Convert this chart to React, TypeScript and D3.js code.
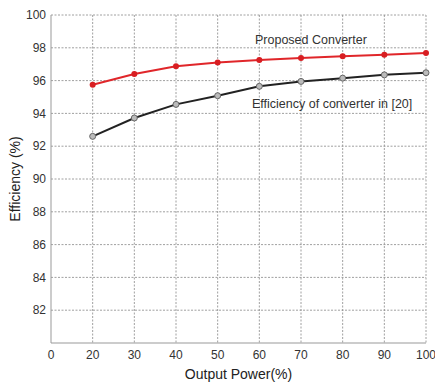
import React from 'react';
import * as d3 from 'd3';

const xTicks = ['0', '20', '30', '40', '50', '60', '70', '80', '90', '100'];
const powers = ['20', '30', '40', '50', '60', '70', '80', '90', '100'];
const proposed = [95.75, 96.4, 96.88, 97.1, 97.25, 97.38, 97.48, 97.58, 97.68];
const reference20 = [92.6, 93.72, 94.55, 95.08, 95.65, 95.95, 96.15, 96.35, 96.48];
const yTicks = [82, 84, 86, 88, 90, 92, 94, 96, 98, 100];

const W = 435;
const H = 387;
const margin = { left: 51, right: 9, top: 15, bottom: 44 };

export default function App() {
  const x = d3.scalePoint<string>().domain(xTicks).range([margin.left, W - margin.right]);
  const y = d3.scaleLinear().domain([80, 100]).range([H - margin.bottom, margin.top]);

  const line = d3.line<number>()
    .x((_, i) => x(powers[i]) as number)
    .y(d => y(d));

  const font = 'Arial, "Liberation Sans", sans-serif';
  const left = margin.left;
  const right = W - margin.right;
  const top = margin.top;
  const bottom = H - margin.bottom;

  return (
    <svg width={W} height={H} style={{ position: 'absolute', left: 0, top: 0, background: '#fff' }}>
      {/* grid */}
      <g stroke="#888" strokeWidth={0.8} strokeDasharray="2,1.5">
        {xTicks.slice(1).map(t => (
          <line key={'gx' + t} x1={x(t)} x2={x(t)} y1={top} y2={bottom} />
        ))}
        {yTicks.map(t => (
          <line key={'gy' + t} x1={left} x2={right} y1={y(t)} y2={y(t)} />
        ))}
      </g>
      {/* axes */}
      <line x1={left} x2={left} y1={top} y2={bottom} stroke="#999" strokeWidth={1} />
      <line x1={left} x2={right} y1={bottom} y2={bottom} stroke="#999" strokeWidth={1} />
      <g fill="#333" fontFamily={font} fontSize={12}>
        {yTicks.map(t => (
          <text key={'ty' + t} x={left - 5} y={y(t)} dy="0.35em" textAnchor="end">{t}</text>
        ))}
        {xTicks.map(t => (
          <text key={'tx' + t} x={x(t)} y={bottom + 16} textAnchor="middle">{t}</text>
        ))}
      </g>
      <text x={(left + right) / 2} y={H - 8} textAnchor="middle" fontFamily={font} fontSize={14} fill="#222">Output Power(%)</text>
      <text transform={`translate(20, ${(top + bottom) / 2}) rotate(-90)`} textAnchor="middle" fontFamily={font} fontSize={14} fill="#222">Efficiency (%)</text>

      {/* series */}
      <path d={line(reference20) || ''} fill="none" stroke="#222" strokeWidth={2} />
      {reference20.map((v, i) => (
        <circle key={'b' + i} cx={x(powers[i])} cy={y(v)} r={3} fill="#bbb" stroke="#666" strokeWidth={1} />
      ))}
      <path d={line(proposed) || ''} fill="none" stroke="#e0262a" strokeWidth={2} />
      {proposed.map((v, i) => (
        <circle key={'r' + i} cx={x(powers[i])} cy={y(v)} r={3} fill="#d81e22" />
      ))}

      <text x={255} y={44} fontFamily={font} fontSize={12.5} fill="#333">Proposed Converter</text>
      <text x={252} y={108} fontFamily={font} fontSize={12.5} fill="#333">Efficiency of converter in [20]</text>
    </svg>
  );
}
